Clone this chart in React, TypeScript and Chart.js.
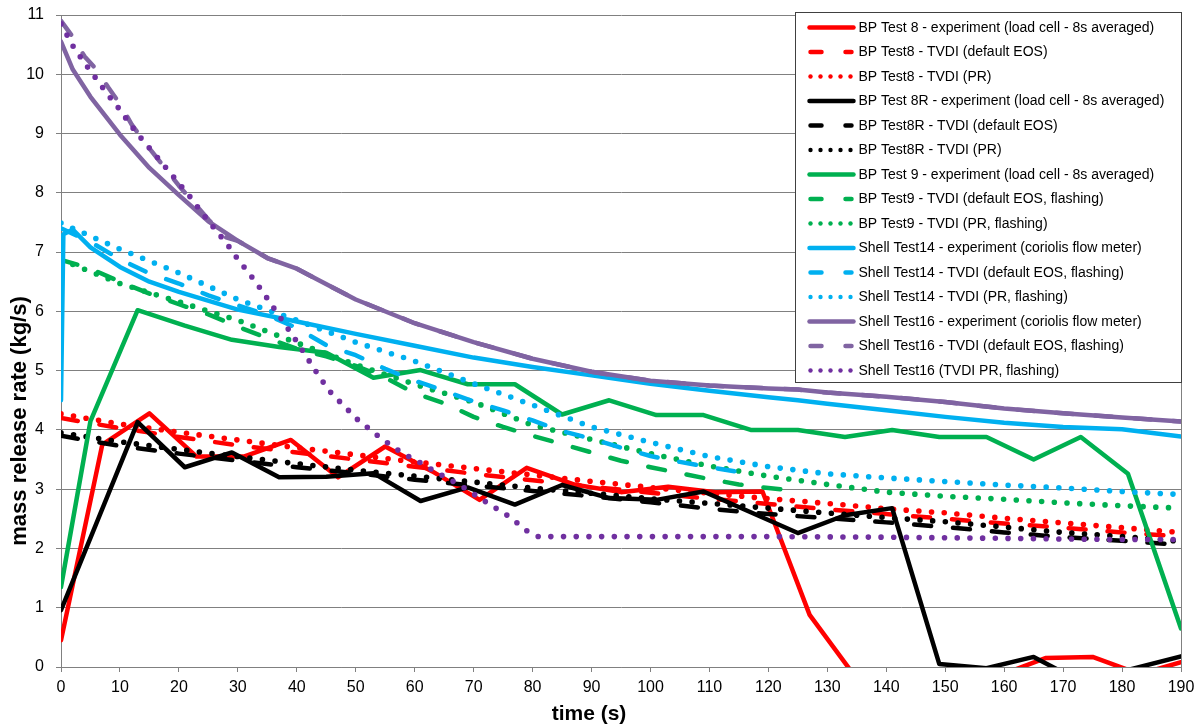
import React, { useEffect, useRef } from 'react';
import { Chart, registerables } from 'chart.js';

Chart.register(...registerables);

const FONT = '"Liberation Sans", Arial, Helvetica, sans-serif';

// ---------- axes ----------
const X_TICKS = [0, 10, 20, 30, 40, 50, 60, 70, 80, 90, 100, 110, 120, 130, 140, 150, 160, 170, 180, 190];
const Y_TICKS = [0, 1, 2, 3, 4, 5, 6, 7, 8, 9, 10, 11];
const X_TITLE = 'time (s)';
const Y_TITLE = 'mass release rate (kg/s)';

// ---------- shared time grid for TVDI curves ----------
const T10 = [0, 10, 20, 30, 40, 50, 60, 70, 80, 90, 100, 110, 120, 130, 140, 150, 160, 170, 180, 190];

// BP Test 8
const bp8ExpTime = [0, 7, 15, 23, 31, 39, 47, 55, 63, 71, 79, 87, 95, 103, 111, 119, 127, 135, 143, 151, 159, 167, 175, 183, 190];
const bp8Exp = [0.45, 3.75, 4.28, 3.55, 3.55, 3.83, 3.2, 3.72, 3.3, 2.82, 3.36, 3.08, 2.95, 3.04, 2.95, 2.96, 0.88, -0.2, -0.3, -0.3, -0.15, 0.15, 0.17, -0.12, 0.08];
const bp8Eos = [4.2, 4.03, 3.88, 3.74, 3.62, 3.5, 3.38, 3.26, 3.15, 3.04, 2.94, 2.84, 2.75, 2.66, 2.58, 2.5, 2.42, 2.35, 2.27, 2.2];
const bp8Pr = [4.27, 4.1, 3.96, 3.83, 3.7, 3.58, 3.46, 3.35, 3.24, 3.13, 3.03, 2.93, 2.84, 2.76, 2.67, 2.6, 2.51, 2.43, 2.35, 2.27];

// BP Test 8R
const bp8rExpTime = [0, 13, 21, 29, 37, 45, 53, 61, 69, 77, 85, 93, 101, 109, 117, 125, 133, 141, 149, 157, 165, 173, 181, 190];
const bp8rExp = [0.96, 4.13, 3.37, 3.62, 3.2, 3.21, 3.27, 2.8, 3.03, 2.74, 3.07, 2.85, 2.82, 2.96, 2.61, 2.26, 2.56, 2.68, 0.05, -0.02, 0.17, -0.25, -0.05, 0.18];
const bp8rEos = [3.9, 3.73, 3.6, 3.48, 3.37, 3.27, 3.16, 3.06, 2.97, 2.88, 2.78, 2.67, 2.58, 2.51, 2.44, 2.36, 2.27, 2.19, 2.13, 2.06];
const bp8rPr = [3.95, 3.8, 3.67, 3.55, 3.43, 3.32, 3.22, 3.12, 3.02, 2.93, 2.84, 2.76, 2.68, 2.6, 2.52, 2.45, 2.36, 2.27, 2.2, 2.12];

// BP Test 9
const bp9ExpTime = [0, 5, 13, 21, 29, 37, 45, 53, 61, 69, 77, 85, 93, 101, 109, 117, 125, 133, 141, 149, 157, 165, 173, 181, 190];
const bp9Exp = [1.35, 4.15, 6.02, 5.76, 5.52, 5.4, 5.3, 4.88, 5.01, 4.77, 4.77, 4.26, 4.5, 4.25, 4.25, 4.0, 4.0, 3.88, 4.0, 3.88, 3.88, 3.5, 3.88, 3.26, 0.65];
const bp9EosTime = [0, 5, 10, 15, 20, 25, 30, 35, 40, 45, 50, 55, 60, 65, 70, 75, 80, 85, 90, 95, 100, 105, 110, 115, 120, 124];
const bp9Eos = [6.87, 6.72, 6.5, 6.3, 6.12, 5.95, 5.74, 5.55, 5.37, 5.24, 5.08, 4.88, 4.62, 4.45, 4.22, 4.05, 3.9, 3.76, 3.62, 3.48, 3.37, 3.27, 3.17, 3.08, 3.02, 2.98];
const bp9Pr = [6.87, 6.47, 6.16, 5.85, 5.47, 5.1, 4.77, 4.47, 4.08, 3.84, 3.6, 3.39, 3.22, 3.08, 2.95, 2.88, 2.83, 2.77, 2.72, 2.68];

// Shell Test 14
const sh14ExpTime = [0, 0.4, 2, 5, 10, 15, 20, 30, 40, 50, 60, 70, 80, 90, 100, 110, 120, 125, 130, 140, 150, 160, 170, 180, 190];
const sh14Exp = [4.5, 7.3, 7.38, 7.08, 6.75, 6.5, 6.33, 6.03, 5.83, 5.62, 5.42, 5.22, 5.06, 4.92, 4.78, 4.66, 4.55, 4.5, 4.44, 4.33, 4.22, 4.12, 4.05, 4.01, 3.89];
const sh14EosTime = [0, 5, 10, 15, 20, 25, 30, 35, 40, 45, 50, 55, 60, 65, 70, 75, 80, 85, 90, 95, 100, 105, 110, 115, 117];
const sh14Eos = [7.4, 7.17, 6.88, 6.64, 6.47, 6.27, 6.1, 5.94, 5.72, 5.43, 5.26, 5.03, 4.83, 4.66, 4.48, 4.33, 4.16, 3.98, 3.85, 3.7, 3.56, 3.46, 3.37, 3.29, 3.26];
const sh14Pr = [7.49, 7.05, 6.65, 6.2, 5.85, 5.48, 5.16, 4.78, 4.42, 4.05, 3.79, 3.55, 3.38, 3.26, 3.19, 3.13, 3.07, 3.02, 2.96, 2.91];

// Shell Test 16
const sh16ExpTime = [0, 2, 5, 10, 15, 20, 25, 30, 35, 40, 50, 60, 70, 80, 90, 100, 110, 120, 125, 130, 140, 150, 160, 170, 180, 190];
const sh16Exp = [10.55, 10.08, 9.62, 8.98, 8.42, 7.96, 7.52, 7.19, 6.9, 6.72, 6.2, 5.8, 5.48, 5.2, 4.98, 4.83, 4.75, 4.7, 4.68, 4.63, 4.56, 4.47, 4.36, 4.28, 4.21, 4.14];
const sh16EosTime = [0, 2, 4, 6, 8, 10, 12, 15, 20, 25, 28, 30, 35, 40, 50, 60, 70, 80, 90, 100, 110, 120, 125, 130, 140, 150, 160, 170, 180, 190];
const sh16Eos = [10.9, 10.63, 10.3, 10.08, 9.78, 9.5, 9.15, 8.75, 8.12, 7.55, 7.25, 7.19, 6.9, 6.72, 6.2, 5.8, 5.48, 5.2, 4.98, 4.83, 4.75, 4.7, 4.68, 4.63, 4.56, 4.47, 4.36, 4.28, 4.21, 4.14];
const sh16PrTime = [0, 2, 4, 6, 8, 10, 12, 14, 16, 18, 20, 22, 24, 26, 28, 30, 32, 34, 36, 38, 40, 42, 44, 46, 48, 50, 52, 54, 56, 58, 60, 64, 68, 72, 76, 79, 81, 90, 100, 120, 140, 160, 180, 190];
const sh16Pr = [10.85, 10.48, 10.19, 9.92, 9.65, 9.4, 9.12, 8.87, 8.64, 8.4, 8.16, 7.92, 7.65, 7.4, 7.16, 6.88, 6.63, 6.36, 6.07, 5.78, 5.49, 5.18, 4.87, 4.6, 4.41, 4.2, 4.04, 3.88, 3.74, 3.6, 3.5, 3.27, 3.05, 2.79, 2.54, 2.3, 2.2, 2.2, 2.2, 2.2, 2.19, 2.17, 2.15, 2.15];

// ---------- series labels / colours / styles ----------
const LABELS = [
  'BP Test 8 - experiment (load cell - 8s averaged)',
  'BP Test8 - TVDI (default EOS)',
  'BP Test8 - TVDI (PR)',
  'BP Test 8R - experiment (load cell - 8s averaged)',
  'BP Test8R - TVDI (default EOS)',
  'BP Test8R - TVDI (PR)',
  'BP Test 9 - experiment (load cell - 8s averaged)',
  'BP Test9 - TVDI (default EOS, flashing)',
  'BP Test9 - TVDI (PR, flashing)',
  'Shell Test14 - experiment (coriolis flow meter)',
  'Shell Test14 - TVDI (default EOS, flashing)',
  'Shell Test14 - TVDI (PR, flashing)',
  'Shell Test16 - experiment (coriolis flow meter)',
  'Shell Test16 - TVDI (default EOS, flashing)',
  'Shell Test16 (TVDI PR, flashing)',
];
const COLORS = [
  '#FF0000', '#FF0000', '#FF0000',
  '#000000', '#000000', '#000000',
  '#00B050', '#00B050', '#00B050',
  '#00B0F0', '#00B0F0', '#00B0F0',
  '#8064A2', '#8064A2', '#7030A0',
];
const STYLES = ['solid', 'dash', 'dot', 'solid', 'dash', 'dot', 'solid', 'dash', 'dot', 'solid', 'dash', 'dot', 'solid', 'dash', 'dot'];
const TIMES = [bp8ExpTime, T10, T10, bp8rExpTime, T10, T10, bp9ExpTime, bp9EosTime, T10, sh14ExpTime, sh14EosTime, T10, sh16ExpTime, sh16EosTime, sh16PrTime];
const VALUES = [bp8Exp, bp8Eos, bp8Pr, bp8rExp, bp8rEos, bp8rPr, bp9Exp, bp9Eos, bp9Pr, sh14Exp, sh14Eos, sh14Pr, sh16Exp, sh16Eos, sh16Pr];

const LINE_W = 4.5;
const DOT_W = 5.6;

const decorPlugin = {
  id: 'decor',
  afterDraw(chart: any) {
    const ctx = chart.ctx as CanvasRenderingContext2D;
    const area = chart.chartArea;
    ctx.save();
    // axis titles
    ctx.fillStyle = '#000';
    ctx.textAlign = 'center';
    ctx.textBaseline = 'middle';
    ctx.font = `bold 21px ${FONT}`;
    ctx.fillText(X_TITLE, area.left + 528, area.bottom + 47);
    ctx.save();
    ctx.font = `bold 22px ${FONT}`;
    ctx.translate(20, area.top + 406);
    ctx.rotate(-Math.PI / 2);
    ctx.fillText(Y_TITLE, 0, 0);
    ctx.restore();

    // legend box
    const bx = Math.round(area.right - 386) + 0.5;
    const by = Math.round(area.top - 3) + 0.5;
    const bw = 386;
    const bh = 370;
    ctx.fillStyle = '#FFFFFF';
    ctx.fillRect(bx, by, bw, bh);
    ctx.strokeStyle = '#404040';
    ctx.lineWidth = 1;
    ctx.strokeRect(bx, by, bw, bh);

    ctx.font = `14px ${FONT}`;
    ctx.textAlign = 'left';
    ctx.textBaseline = 'middle';
    chart.data.datasets.forEach((ds: any, i: number) => {
      const y = by + 15 + 24.5 * i;
      const x0 = bx + 13;
      const x1 = bx + 58;
      const style = STYLES[i];
      ctx.strokeStyle = ds.borderColor;
      ctx.fillStyle = ds.borderColor;
      ctx.lineWidth = LINE_W;
      if (style === 'solid') {
        ctx.lineCap = 'round';
        ctx.beginPath();
        ctx.moveTo(x0 + 1, y);
        ctx.lineTo(x1, y);
        ctx.stroke();
      } else if (style === 'dash') {
        ctx.lineCap = 'round';
        ctx.beginPath();
        ctx.moveTo(x0 + 2, y);
        ctx.lineTo(x0 + 13, y);
        ctx.moveTo(x0 + 37, y);
        ctx.lineTo(x1 - 2, y);
        ctx.stroke();
      } else {
        for (let k = 0; k < 5; k++) {
          ctx.beginPath();
          ctx.arc(x0 + 2 + 10 * k, y, 2.2, 0, Math.PI * 2);
          ctx.fill();
        }
      }
      ctx.fillStyle = '#000';
      ctx.fillText(ds.label, bx + 63, y + 0.5);
    });
    ctx.restore();
  },
};

export default function App() {
  const canvasRef = useRef<HTMLCanvasElement | null>(null);

  useEffect(() => {
    document.body.style.margin = '0';
    const canvas = canvasRef.current;
    if (!canvas) return;
    const n = LABELS.length;
    const datasets = LABELS.map((label, i) => {
      const style = STYLES[i];
      return {
        label,
        data: TIMES[i].map((t, j) => ({ x: t, y: VALUES[i][j] })),
        borderColor: COLORS[i],
        backgroundColor: COLORS[i],
        borderWidth: style === 'dot' ? DOT_W : LINE_W,
        borderDash: style === 'dash' ? [17, 22] : style === 'dot' ? [0, 12.7] : [],
        borderCapStyle: 'round',
        borderJoinStyle: 'round',
        pointRadius: 0,
        pointHoverRadius: 0,
        pointHitRadius: 0,
        tension: 0,
        fill: false,
        clip: 0,
        order: n - i,
      };
    });

    const chart = new Chart(canvas, {
      type: 'line',
      data: { datasets } as any,
      options: {
        responsive: false,
        animation: false,
        events: [],
        layout: { padding: { top: 15, right: 20, left: 0, bottom: 0 } },
        plugins: { legend: { display: false }, tooltip: { enabled: false } },
        scales: {
          x: {
            type: 'linear',
            min: 0,
            max: 190,
            afterBuildTicks: (s: any) => { s.ticks = X_TICKS.map((v) => ({ value: v })); },
            afterFit: (s: any) => { s.height = 60; s.paddingLeft = 0; s.paddingRight = 0; },
            ticks: { color: '#000', font: { family: FONT, size: 16 }, padding: 6, maxRotation: 0, autoSkip: false },
            grid: {
              color: (c: any) => (c.tick && c.tick.value === 190 ? '#808080' : 'rgba(0,0,0,0)'),
              tickColor: '#808080',
              tickLength: 5,
              drawTicks: true,
            },
            border: { color: '#808080', width: 1 },
          },
          y: {
            type: 'linear',
            min: 0,
            max: 11,
            afterBuildTicks: (s: any) => { s.ticks = Y_TICKS.map((v) => ({ value: v })); },
            afterFit: (s: any) => { s.width = 61; s.paddingTop = 0; s.paddingBottom = 0; },
            ticks: { color: '#000', font: { family: FONT, size: 16 }, padding: 12, autoSkip: false },
            grid: { color: '#808080', tickColor: '#808080', tickLength: 5, drawTicks: true },
            border: { color: '#808080', width: 1 },
          },
        },
      } as any,
      plugins: [decorPlugin],
    });
    return () => chart.destroy();
  }, []);

  return (
    <div style={{ width: 1201, height: 727, position: 'relative', background: '#fff' }}>
      <canvas ref={canvasRef} width={1201} height={727} style={{ display: 'block' }} />
    </div>
  );
}
